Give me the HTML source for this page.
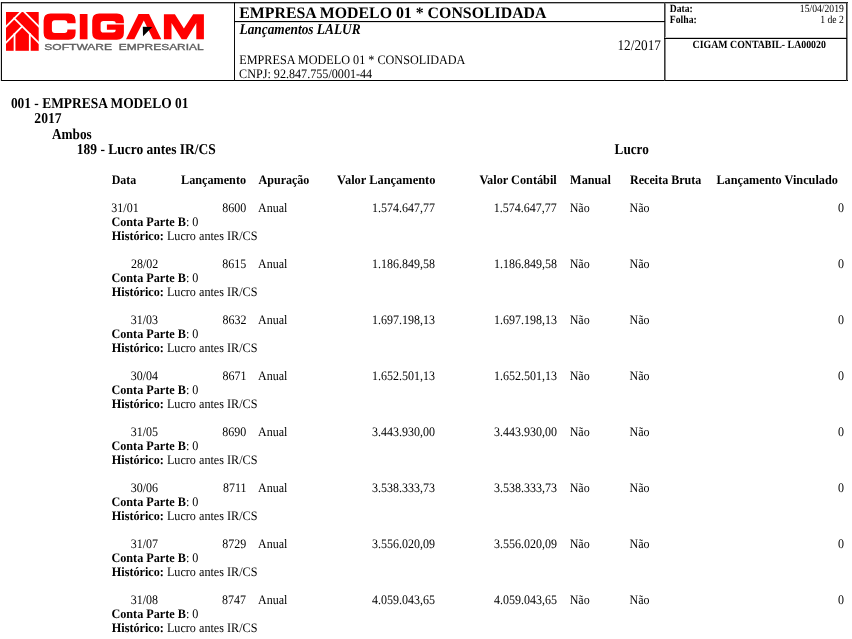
<!DOCTYPE html>
<html><head><meta charset="utf-8"><style>
html,body{margin:0;padding:0;background:#fff;width:852px;height:639px;overflow:hidden}
svg{display:block;will-change:transform}
text{white-space:pre}
</style></head><body>
<svg width="852" height="639" viewBox="0 0 852 639">
<rect width="852" height="639" fill="#fff"/>
<g shape-rendering="crispEdges">
<rect x="1" y="3" width="847" height="1" fill="#b0b0b0"/>
<rect x="0" y="2" width="1" height="79" fill="#dddddd"/>
<rect x="847" y="2" width="1" height="79" fill="#888888"/>
<rect x="665" y="2" width="1" height="79" fill="#888888"/>
<rect x="234" y="22" width="431" height="1" fill="#dddddd"/>
<rect x="665" y="37" width="182" height="1" fill="#cccccc"/>
<rect x="1" y="2" width="847" height="1" fill="#202020"/>
<rect x="1" y="80" width="847" height="1" fill="#000"/>
<rect x="1" y="2" width="1" height="79" fill="#0a0a0a"/>
<rect x="846" y="2" width="1" height="79" fill="#333333"/>
<rect x="234" y="2" width="1" height="79" fill="#0a0a0a"/>
<rect x="664" y="2" width="1" height="79" fill="#3a3a3a"/>
<rect x="234" y="21" width="431" height="1" fill="#000"/>
<rect x="664" y="38" width="183" height="1" fill="#000"/>
</g>
<g>
<rect x="6" y="12" width="32.7" height="38.8" fill="#ff0000"/>
<g stroke="#fff" stroke-width="1.8">
<line x1="23.5" y1="9.2" x2="4" y2="28.7"/>
<line x1="21.5" y1="9.2" x2="41" y2="28.7"/>
<line x1="13.5" y1="17.7" x2="41" y2="45.2"/>
<line x1="22.7" y1="25.9" x2="4" y2="44.6"/>
<line x1="14.55" y1="33" x2="14.55" y2="52"/>
<line x1="29.8" y1="33" x2="29.8" y2="52"/>
</g>
<path fill="#ff0000" d="M50.6,13.6 H68.6 Q75.6,13.6 75.6,20.6 V23.3 H67.4 V23.2 Q67.4,20.2 64.4,20.2 H54.9 Q51.9,20.2 51.9,23.2 V29.9 Q51.9,32.9 54.9,32.9 H64.4 Q67.4,32.9 67.4,29.9 V29.6 H75.6 V32.7 Q75.6,39.7 68.6,39.7 H50.6 Q43.6,39.7 43.6,32.7 V20.6 Q43.6,13.6 50.6,13.6 Z"/>
<rect x="79.8" y="14" width="7.7" height="25.3" fill="#ff0000"/>
<path fill="#ff0000" fill-rule="evenodd" d="M99.2,13.6 H116.9 Q123.9,13.6 123.9,20.6 V32.7 Q123.9,39.7 116.9,39.7 H99.2 Q92.2,39.7 92.2,32.7 V20.6 Q92.2,13.6 99.2,13.6 Z M103.4,20.9 H112.9 Q115.7,20.9 115.7,23.3 H123.9 V24.6 H106.9 V29.7 H115.7 V30 Q115.7,32.5 112.9,32.5 H103.4 Q100.6,32.5 100.6,29.7 V23.7 Q100.6,20.9 103.4,20.9 Z"/>
<path fill="#ff0000" d="M126,39.3 L138.5,14 H149 L161.3,39.3 H153 L143.8,20.5 L134.3,39.3 Z"/>
<path fill="#000" d="M142.8,26.8 L152.3,27 L143,36.3 Z"/>
<path fill="#ff0000" d="M163.9,14.2 H174.9 L183.9,28.6 L193.2,14.2 H203.9 V39.3 H196.3 V23 L186.5,39.3 H181.7 L171.5,23 V39.3 H163.9 Z"/>
<text x="44.3" y="49.5" font-family="Liberation Sans" font-size="9" fill="#606060" stroke="#606060" stroke-width="0.35" textLength="67.8" lengthAdjust="spacingAndGlyphs">SOFTWARE</text>
<text x="118.8" y="49.5" font-family="Liberation Sans" font-size="9" fill="#606060" stroke="#606060" stroke-width="0.35" textLength="84.8" lengthAdjust="spacingAndGlyphs">EMPRESARIAL</text>
</g>
<g font-family="Liberation Serif" fill="#000" text-rendering="geometricPrecision">
<text x="239.25" y="17.6" font-size="16" font-weight="bold" textLength="307.20" lengthAdjust="spacingAndGlyphs">EMPRESA MODELO 01 * CONSOLIDADA</text>
<text x="239.51" y="34.4" font-size="15" font-weight="bold" font-style="italic" textLength="121.04" lengthAdjust="spacingAndGlyphs">Lançamentos LALUR</text>
<text x="239.31" y="64" font-size="13" textLength="226.13" lengthAdjust="spacingAndGlyphs">EMPRESA MODELO 01 * CONSOLIDADA</text>
<text x="239.12" y="78.3" font-size="13" textLength="133.07" lengthAdjust="spacingAndGlyphs">CNPJ: 92.847.755/0001-44</text>
<text x="617.46" y="49.9" font-size="14.67" textLength="43.44" lengthAdjust="spacingAndGlyphs">12/2017</text>
<text x="669.85" y="12.1" font-size="11" font-weight="bold" textLength="22.95" lengthAdjust="spacingAndGlyphs">Data:</text>
<text x="669.85" y="23.1" font-size="11" font-weight="bold" textLength="26.96" lengthAdjust="spacingAndGlyphs">Folha:</text>
<text x="799.85" y="11.9" font-size="11" textLength="43.96" lengthAdjust="spacingAndGlyphs">15/04/2019</text>
<text x="820.24" y="22.8" font-size="11" textLength="23.71" lengthAdjust="spacingAndGlyphs">1 de 2</text>
<text x="692.54" y="47.9" font-size="11" font-weight="bold" textLength="133.37" lengthAdjust="spacingAndGlyphs">CIGAM CONTABIL- LA00020</text>
<text x="10.88" y="107.6" font-size="15" font-weight="bold" textLength="177.54" lengthAdjust="spacingAndGlyphs">001 - EMPRESA MODELO 01</text>
<text x="34.37" y="122.8" font-size="15" font-weight="bold" textLength="27.24" lengthAdjust="spacingAndGlyphs">2017</text>
<text x="52.00" y="138.5" font-size="15" font-weight="bold" textLength="39.69" lengthAdjust="spacingAndGlyphs">Ambos</text>
<text x="76.85" y="154" font-size="15" font-weight="bold" textLength="138.90" lengthAdjust="spacingAndGlyphs">189 - Lucro antes IR/CS</text>
<text x="614.59" y="153.9" font-size="15" font-weight="bold" textLength="34.22" lengthAdjust="spacingAndGlyphs">Lucro</text>
<text x="111.71" y="183.8" font-size="13" font-weight="bold" textLength="24.49" lengthAdjust="spacingAndGlyphs">Data</text>
<text x="181.01" y="183.8" font-size="13" font-weight="bold" textLength="65.07" lengthAdjust="spacingAndGlyphs">Lançamento</text>
<text x="258.60" y="183.8" font-size="13" font-weight="bold" textLength="50.78" lengthAdjust="spacingAndGlyphs">Apuração</text>
<text x="337.10" y="183.8" font-size="13" font-weight="bold" textLength="98.29" lengthAdjust="spacingAndGlyphs">Valor Lançamento</text>
<text x="479.40" y="183.8" font-size="13" font-weight="bold" textLength="77.35" lengthAdjust="spacingAndGlyphs">Valor Contábil</text>
<text x="570.11" y="183.8" font-size="13" font-weight="bold" textLength="40.74" lengthAdjust="spacingAndGlyphs">Manual</text>
<text x="630.11" y="183.8" font-size="13" font-weight="bold" textLength="71.09" lengthAdjust="spacingAndGlyphs">Receita Bruta</text>
<text x="716.41" y="183.8" font-size="13" font-weight="bold" textLength="121.47" lengthAdjust="spacingAndGlyphs">Lançamento Vinculado</text>
<text x="111.34" y="211.8" font-size="13" textLength="27.33" lengthAdjust="spacingAndGlyphs">31/01</text>
<text x="246.28" y="211.8" font-size="13" text-anchor="end" textLength="24.00" lengthAdjust="spacingAndGlyphs">8600</text>
<text x="258.10" y="211.8" font-size="13" textLength="29.33" lengthAdjust="spacingAndGlyphs">Anual</text>
<text x="434.89" y="211.8" font-size="13" text-anchor="end" textLength="63.00" lengthAdjust="spacingAndGlyphs">1.574.647,77</text>
<text x="556.79" y="211.8" font-size="13" text-anchor="end" textLength="63.00" lengthAdjust="spacingAndGlyphs">1.574.647,77</text>
<text x="569.71" y="211.8" font-size="13" textLength="19.99" lengthAdjust="spacingAndGlyphs">Não</text>
<text x="629.61" y="211.8" font-size="13" textLength="19.99" lengthAdjust="spacingAndGlyphs">Não</text>
<text x="843.98" y="211.8" font-size="13" text-anchor="end" textLength="6.00" lengthAdjust="spacingAndGlyphs">0</text>
<text x="111.43" y="225.9" font-size="13" font-weight="bold" textLength="74.52" lengthAdjust="spacingAndGlyphs">Conta Parte B</text>
<text x="185.95" y="225.9" font-size="13" textLength="12.54" lengthAdjust="spacingAndGlyphs">: 0</text>
<text x="111.81" y="239.8" font-size="13" font-weight="bold" textLength="52.04" lengthAdjust="spacingAndGlyphs">Histórico:</text>
<text x="163.85" y="239.8" font-size="13" textLength="93.63" lengthAdjust="spacingAndGlyphs"> Lucro antes IR/CS</text>
<text x="130.93" y="267.88" font-size="13" textLength="27.33" lengthAdjust="spacingAndGlyphs">28/02</text>
<text x="246.28" y="267.88" font-size="13" text-anchor="end" textLength="24.00" lengthAdjust="spacingAndGlyphs">8615</text>
<text x="258.10" y="267.88" font-size="13" textLength="29.33" lengthAdjust="spacingAndGlyphs">Anual</text>
<text x="435.07" y="267.88" font-size="13" text-anchor="end" textLength="63.00" lengthAdjust="spacingAndGlyphs">1.186.849,58</text>
<text x="556.98" y="267.88" font-size="13" text-anchor="end" textLength="63.00" lengthAdjust="spacingAndGlyphs">1.186.849,58</text>
<text x="569.71" y="267.88" font-size="13" textLength="19.99" lengthAdjust="spacingAndGlyphs">Não</text>
<text x="629.61" y="267.88" font-size="13" textLength="19.99" lengthAdjust="spacingAndGlyphs">Não</text>
<text x="843.98" y="267.88" font-size="13" text-anchor="end" textLength="6.00" lengthAdjust="spacingAndGlyphs">0</text>
<text x="111.43" y="281.98" font-size="13" font-weight="bold" textLength="74.52" lengthAdjust="spacingAndGlyphs">Conta Parte B</text>
<text x="185.95" y="281.98" font-size="13" textLength="12.54" lengthAdjust="spacingAndGlyphs">: 0</text>
<text x="111.81" y="295.88" font-size="13" font-weight="bold" textLength="52.04" lengthAdjust="spacingAndGlyphs">Histórico:</text>
<text x="163.85" y="295.88" font-size="13" textLength="93.63" lengthAdjust="spacingAndGlyphs"> Lucro antes IR/CS</text>
<text x="130.74" y="323.96" font-size="13" textLength="27.33" lengthAdjust="spacingAndGlyphs">31/03</text>
<text x="246.46" y="323.96" font-size="13" text-anchor="end" textLength="24.00" lengthAdjust="spacingAndGlyphs">8632</text>
<text x="258.10" y="323.96" font-size="13" textLength="29.33" lengthAdjust="spacingAndGlyphs">Anual</text>
<text x="435.07" y="323.96" font-size="13" text-anchor="end" textLength="63.00" lengthAdjust="spacingAndGlyphs">1.697.198,13</text>
<text x="556.98" y="323.96" font-size="13" text-anchor="end" textLength="63.00" lengthAdjust="spacingAndGlyphs">1.697.198,13</text>
<text x="569.71" y="323.96" font-size="13" textLength="19.99" lengthAdjust="spacingAndGlyphs">Não</text>
<text x="629.61" y="323.96" font-size="13" textLength="19.99" lengthAdjust="spacingAndGlyphs">Não</text>
<text x="843.98" y="323.96" font-size="13" text-anchor="end" textLength="6.00" lengthAdjust="spacingAndGlyphs">0</text>
<text x="111.43" y="338.06" font-size="13" font-weight="bold" textLength="74.52" lengthAdjust="spacingAndGlyphs">Conta Parte B</text>
<text x="185.95" y="338.06" font-size="13" textLength="12.54" lengthAdjust="spacingAndGlyphs">: 0</text>
<text x="111.81" y="351.96" font-size="13" font-weight="bold" textLength="52.04" lengthAdjust="spacingAndGlyphs">Histórico:</text>
<text x="163.85" y="351.96" font-size="13" textLength="93.63" lengthAdjust="spacingAndGlyphs"> Lucro antes IR/CS</text>
<text x="130.74" y="380.04" font-size="13" textLength="27.33" lengthAdjust="spacingAndGlyphs">30/04</text>
<text x="246.46" y="380.04" font-size="13" text-anchor="end" textLength="24.00" lengthAdjust="spacingAndGlyphs">8671</text>
<text x="258.10" y="380.04" font-size="13" textLength="29.33" lengthAdjust="spacingAndGlyphs">Anual</text>
<text x="435.07" y="380.04" font-size="13" text-anchor="end" textLength="63.00" lengthAdjust="spacingAndGlyphs">1.652.501,13</text>
<text x="556.98" y="380.04" font-size="13" text-anchor="end" textLength="63.00" lengthAdjust="spacingAndGlyphs">1.652.501,13</text>
<text x="569.71" y="380.04" font-size="13" textLength="19.99" lengthAdjust="spacingAndGlyphs">Não</text>
<text x="629.61" y="380.04" font-size="13" textLength="19.99" lengthAdjust="spacingAndGlyphs">Não</text>
<text x="843.98" y="380.04" font-size="13" text-anchor="end" textLength="6.00" lengthAdjust="spacingAndGlyphs">0</text>
<text x="111.43" y="394.14" font-size="13" font-weight="bold" textLength="74.52" lengthAdjust="spacingAndGlyphs">Conta Parte B</text>
<text x="185.95" y="394.14" font-size="13" textLength="12.54" lengthAdjust="spacingAndGlyphs">: 0</text>
<text x="111.81" y="408.04" font-size="13" font-weight="bold" textLength="52.04" lengthAdjust="spacingAndGlyphs">Histórico:</text>
<text x="163.85" y="408.04" font-size="13" textLength="93.63" lengthAdjust="spacingAndGlyphs"> Lucro antes IR/CS</text>
<text x="130.74" y="436.12" font-size="13" textLength="27.33" lengthAdjust="spacingAndGlyphs">31/05</text>
<text x="246.28" y="436.12" font-size="13" text-anchor="end" textLength="24.00" lengthAdjust="spacingAndGlyphs">8690</text>
<text x="258.10" y="436.12" font-size="13" textLength="29.33" lengthAdjust="spacingAndGlyphs">Anual</text>
<text x="435.07" y="436.12" font-size="13" text-anchor="end" textLength="63.00" lengthAdjust="spacingAndGlyphs">3.443.930,00</text>
<text x="556.98" y="436.12" font-size="13" text-anchor="end" textLength="63.00" lengthAdjust="spacingAndGlyphs">3.443.930,00</text>
<text x="569.71" y="436.12" font-size="13" textLength="19.99" lengthAdjust="spacingAndGlyphs">Não</text>
<text x="629.61" y="436.12" font-size="13" textLength="19.99" lengthAdjust="spacingAndGlyphs">Não</text>
<text x="843.98" y="436.12" font-size="13" text-anchor="end" textLength="6.00" lengthAdjust="spacingAndGlyphs">0</text>
<text x="111.43" y="450.22" font-size="13" font-weight="bold" textLength="74.52" lengthAdjust="spacingAndGlyphs">Conta Parte B</text>
<text x="185.95" y="450.22" font-size="13" textLength="12.54" lengthAdjust="spacingAndGlyphs">: 0</text>
<text x="111.81" y="464.12" font-size="13" font-weight="bold" textLength="52.04" lengthAdjust="spacingAndGlyphs">Histórico:</text>
<text x="163.85" y="464.12" font-size="13" textLength="93.63" lengthAdjust="spacingAndGlyphs"> Lucro antes IR/CS</text>
<text x="130.74" y="492.2" font-size="13" textLength="27.33" lengthAdjust="spacingAndGlyphs">30/06</text>
<text x="246.46" y="492.2" font-size="13" text-anchor="end" textLength="23.55" lengthAdjust="spacingAndGlyphs">8711</text>
<text x="258.10" y="492.2" font-size="13" textLength="29.33" lengthAdjust="spacingAndGlyphs">Anual</text>
<text x="435.07" y="492.2" font-size="13" text-anchor="end" textLength="63.00" lengthAdjust="spacingAndGlyphs">3.538.333,73</text>
<text x="556.98" y="492.2" font-size="13" text-anchor="end" textLength="63.00" lengthAdjust="spacingAndGlyphs">3.538.333,73</text>
<text x="569.71" y="492.2" font-size="13" textLength="19.99" lengthAdjust="spacingAndGlyphs">Não</text>
<text x="629.61" y="492.2" font-size="13" textLength="19.99" lengthAdjust="spacingAndGlyphs">Não</text>
<text x="843.98" y="492.2" font-size="13" text-anchor="end" textLength="6.00" lengthAdjust="spacingAndGlyphs">0</text>
<text x="111.43" y="506.3" font-size="13" font-weight="bold" textLength="74.52" lengthAdjust="spacingAndGlyphs">Conta Parte B</text>
<text x="185.95" y="506.3" font-size="13" textLength="12.54" lengthAdjust="spacingAndGlyphs">: 0</text>
<text x="111.81" y="520.2" font-size="13" font-weight="bold" textLength="52.04" lengthAdjust="spacingAndGlyphs">Histórico:</text>
<text x="163.85" y="520.2" font-size="13" textLength="93.63" lengthAdjust="spacingAndGlyphs"> Lucro antes IR/CS</text>
<text x="130.74" y="548.28" font-size="13" textLength="27.33" lengthAdjust="spacingAndGlyphs">31/07</text>
<text x="246.28" y="548.28" font-size="13" text-anchor="end" textLength="24.00" lengthAdjust="spacingAndGlyphs">8729</text>
<text x="258.10" y="548.28" font-size="13" textLength="29.33" lengthAdjust="spacingAndGlyphs">Anual</text>
<text x="435.07" y="548.28" font-size="13" text-anchor="end" textLength="63.00" lengthAdjust="spacingAndGlyphs">3.556.020,09</text>
<text x="556.98" y="548.28" font-size="13" text-anchor="end" textLength="63.00" lengthAdjust="spacingAndGlyphs">3.556.020,09</text>
<text x="569.71" y="548.28" font-size="13" textLength="19.99" lengthAdjust="spacingAndGlyphs">Não</text>
<text x="629.61" y="548.28" font-size="13" textLength="19.99" lengthAdjust="spacingAndGlyphs">Não</text>
<text x="843.98" y="548.28" font-size="13" text-anchor="end" textLength="6.00" lengthAdjust="spacingAndGlyphs">0</text>
<text x="111.43" y="562.38" font-size="13" font-weight="bold" textLength="74.52" lengthAdjust="spacingAndGlyphs">Conta Parte B</text>
<text x="185.95" y="562.38" font-size="13" textLength="12.54" lengthAdjust="spacingAndGlyphs">: 0</text>
<text x="111.81" y="576.28" font-size="13" font-weight="bold" textLength="52.04" lengthAdjust="spacingAndGlyphs">Histórico:</text>
<text x="163.85" y="576.28" font-size="13" textLength="93.63" lengthAdjust="spacingAndGlyphs"> Lucro antes IR/CS</text>
<text x="130.74" y="604.36" font-size="13" textLength="27.33" lengthAdjust="spacingAndGlyphs">31/08</text>
<text x="246.09" y="604.36" font-size="13" text-anchor="end" textLength="24.00" lengthAdjust="spacingAndGlyphs">8747</text>
<text x="258.10" y="604.36" font-size="13" textLength="29.33" lengthAdjust="spacingAndGlyphs">Anual</text>
<text x="435.07" y="604.36" font-size="13" text-anchor="end" textLength="63.00" lengthAdjust="spacingAndGlyphs">4.059.043,65</text>
<text x="556.98" y="604.36" font-size="13" text-anchor="end" textLength="63.00" lengthAdjust="spacingAndGlyphs">4.059.043,65</text>
<text x="569.71" y="604.36" font-size="13" textLength="19.99" lengthAdjust="spacingAndGlyphs">Não</text>
<text x="629.61" y="604.36" font-size="13" textLength="19.99" lengthAdjust="spacingAndGlyphs">Não</text>
<text x="843.98" y="604.36" font-size="13" text-anchor="end" textLength="6.00" lengthAdjust="spacingAndGlyphs">0</text>
<text x="111.43" y="618.46" font-size="13" font-weight="bold" textLength="74.52" lengthAdjust="spacingAndGlyphs">Conta Parte B</text>
<text x="185.95" y="618.46" font-size="13" textLength="12.54" lengthAdjust="spacingAndGlyphs">: 0</text>
<text x="111.81" y="632.36" font-size="13" font-weight="bold" textLength="52.04" lengthAdjust="spacingAndGlyphs">Histórico:</text>
<text x="163.85" y="632.36" font-size="13" textLength="93.63" lengthAdjust="spacingAndGlyphs"> Lucro antes IR/CS</text>
</g>
</svg>
</body></html>
